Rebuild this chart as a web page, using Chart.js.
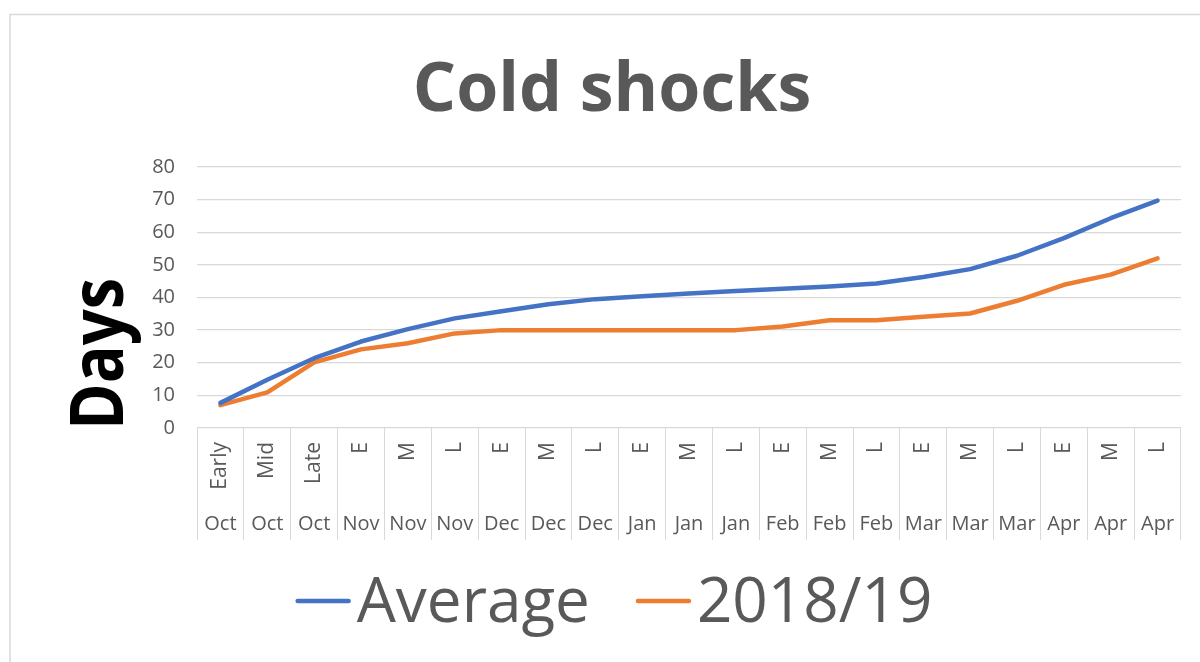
<!DOCTYPE html>
<html>
<head>
<meta charset="utf-8">
<script src="https://cdn.jsdelivr.net/npm/chart.js@4"></script>
<style>
  html, body { margin: 0; padding: 0; background: #fff; }
  #wrap { width: 1200px; height: 662px; }
</style>
</head>
<body>
<div id="wrap"><canvas id="c" width="1200" height="662"></canvas></div>
<script>
const periodLabels = ['Early','Mid','Late','E','M','L','E','M','L','E','M','L','E','M','L','E','M','L','E','M','L'];
const monthLabels = ['Oct','Oct','Oct','Nov','Nov','Nov','Dec','Dec','Dec','Jan','Jan','Jan','Feb','Feb','Feb','Mar','Mar','Mar','Apr','Apr','Apr'];
const averageValues = [7.7, 14.8, 21.4, 26.5, 30.3, 33.6, 35.8, 37.9, 39.5, 40.4, 41.2, 42.0, 42.7, 43.4, 44.3, 46.3, 48.7, 52.8, 58.2, 64.3, 69.7];
const season1819Values = [7.0, 10.9, 20.1, 24.1, 26.0, 29.0, 30.0, 30.0, 30.0, 30.0, 30.0, 30.0, 31.1, 33.0, 33.0, 34.1, 35.1, 39.0, 43.9, 47.0, 52.0];
const yTicks = [0, 10, 20, 30, 40, 50, 60, 70, 80];
const yAxisTitle = 'Days';

const GRID = '#d9d9d9';
const TEXT = '#595959';

const frame = {
  id: 'frame',
  beforeDraw(chart) {
    const ctx = chart.ctx;
    ctx.save();
    ctx.fillStyle = '#fff';
    ctx.fillRect(0, 0, chart.width, chart.height);
    ctx.strokeStyle = GRID;
    ctx.lineWidth = 1.5;
    ctx.strokeRect(10, 14.5, chart.width + 20, chart.height + 20);
    ctx.restore();
  }
};

const yTitle = {
  id: 'yTitle',
  afterDraw(chart) {
    const ctx = chart.ctx;
    const area = chart.chartArea;
    ctx.save();
    ctx.translate(123, area.bottom + 2);
    ctx.rotate(-Math.PI / 2);
    ctx.font = 'bold 74px "Open Sans"';
    ctx.fillStyle = '#000';
    ctx.textAlign = 'left';
    ctx.textBaseline = 'alphabetic';
    ctx.fillText(yAxisTitle, 0, 0, 152);
    ctx.restore();
  }
};

const lineLegend = {
  id: 'lineLegend',
  afterDraw(chart) {
    const ctx = chart.ctx;
    const ds = chart.data.datasets;
    ctx.save();
    ctx.font = '62px "Open Sans"';
    ctx.textBaseline = 'alphabetic';
    const lineLen = 55, gapText = 6, gapItem = 46;
    const widths = ds.map(d => ctx.measureText(d.label).width);
    let total = 0;
    widths.forEach((w, i) => { total += lineLen + gapText + w + (i < widths.length - 1 ? gapItem : 0); });
    let x = 614 - total / 2;
    const yLine = 601, yText = 622;
    ds.forEach((d, i) => {
      ctx.strokeStyle = d.borderColor;
      ctx.lineWidth = 4.5;
      ctx.lineCap = 'round';
      ctx.beginPath();
      ctx.moveTo(x + 2, yLine);
      ctx.lineTo(x + lineLen - 2, yLine);
      ctx.stroke();
      ctx.fillStyle = TEXT;
      ctx.fillText(d.label, x + lineLen + gapText, yText);
      x += lineLen + gapText + widths[i] + gapItem;
    });
    ctx.restore();
  }
};

new Chart(document.getElementById('c'), {
  type: 'line',
  data: {
    labels: periodLabels,
    datasets: [
      { label: 'Average', data: averageValues, borderColor: '#4472C4', backgroundColor: '#4472C4',
        borderWidth: 4.5, pointRadius: 0, tension: 0, borderCapStyle: 'round', borderJoinStyle: 'round' },
      { label: '2018/19', data: season1819Values, borderColor: '#ED7D31', backgroundColor: '#ED7D31',
        borderWidth: 4.5, pointRadius: 0, tension: 0, borderCapStyle: 'round', borderJoinStyle: 'round' }
    ]
  },
  options: {
    responsive: false,
    animation: false,
    events: [],
    layout: { padding: { top: 0, left: 43, right: 19, bottom: 122 } },
    plugins: {
      legend: { display: false },
      tooltip: { enabled: false },
      title: {
        display: true,
        text: 'Cold shocks',
        color: TEXT,
        font: { family: 'Open Sans', size: 68, weight: 'bold', lineHeight: 1.2 },
        padding: { top: 50.5, bottom: 34.9 }
      }
    },
    scales: {
      y: {
        min: 0, max: 80,
        afterBuildTicks: (s) => { s.ticks = yTicks.map(v => ({ value: v })); },
        afterFit: (s) => { s.width = 154; },
        border: { display: false },
        grid: { color: GRID, lineWidth: 1.3, drawTicks: false },
        ticks: { color: TEXT, padding: 22, font: { family: 'Open Sans', size: 20 } }
      },
      x: {
        type: 'category',
        offset: true,
        afterFit: (s) => { s.height = 80; },
        border: { display: false },
        grid: { display: true, offset: true, drawOnChartArea: false, drawTicks: true, tickLength: 80, color: GRID, lineWidth: 1 },
        ticks: { color: TEXT, autoSkip: false, minRotation: 90, maxRotation: 90, padding: -66,
                 font: { family: 'Open Sans', size: 21 } }
      },
      x2: {
        type: 'category',
        position: 'bottom',
        labels: monthLabels,
        offset: true,
        weight: 1,
        afterFit: (s) => { s.height = 32; },
        border: { display: false },
        grid: { display: true, offset: true, drawOnChartArea: false, drawTicks: true, tickLength: 32, color: GRID, lineWidth: 1 },
        ticks: { color: TEXT, autoSkip: false, maxRotation: 0, minRotation: 0, padding: -28,
                 font: { family: 'Open Sans', size: 20 } }
      }
    }
  },
  plugins: [frame, yTitle, lineLegend]
});
</script>
</body>
</html>
